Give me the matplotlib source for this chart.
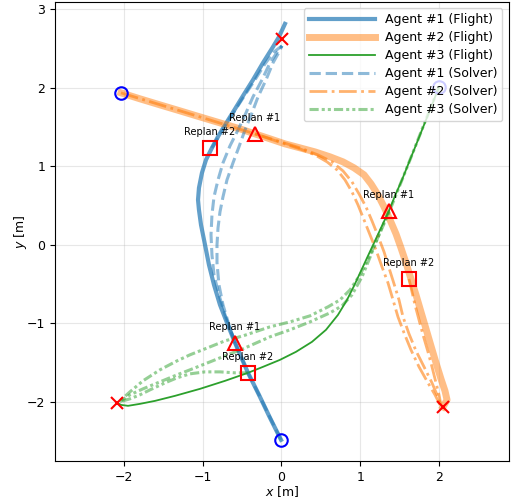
import numpy as np
import matplotlib.pyplot as plt

plt.rcParams['font.size'] = 9

# Flown trajectories (x, y in metres)
flight1_x = [-0.006, -0.146, -0.286, -0.425, -0.514, -0.590, -0.692, -0.781, -0.857, -0.921, -0.971, -1.022, -1.048, -1.060,
             -1.048, -1.010, -0.959, -0.883, -0.794, -0.692, -0.590, -0.489, -0.362, -0.235, -0.108, -0.032, 0.044]
flight1_y = [-2.481, -2.201, -1.908, -1.628, -1.425, -1.247, -0.992, -0.763, -0.509, -0.254, 0.000, 0.254, 0.445, 0.573,
             0.725, 0.916, 1.081, 1.234, 1.399, 1.565, 1.730, 1.896, 2.099, 2.316, 2.519, 2.646, 2.812]

flight2_x = [-2.038, -1.797, -1.543, -1.289, -1.035, -0.781, -0.527, -0.337, -0.146, 0.044, 0.235, 0.425, 0.616, 0.781,
             0.921, 1.048, 1.137, 1.225, 1.302, 1.378, 1.454, 1.517, 1.581, 1.644, 1.708, 1.771, 1.835, 1.898, 1.962,
             2.025, 2.076, 2.102, 2.051]
flight2_y = [1.934, 1.858, 1.781, 1.705, 1.628, 1.552, 1.476, 1.412, 1.349, 1.285, 1.234, 1.183, 1.120, 1.056,
             0.980, 0.891, 0.776, 0.636, 0.483, 0.318, 0.140, -0.038, -0.229, -0.433, -0.636, -0.852, -1.069, -1.285,
             -1.501, -1.705, -1.858, -1.972, -2.061]

flight3_x = [2.000, 1.911, 1.835, 1.759, 1.683, 1.606, 1.530, 1.441, 1.365, 1.276, 1.187, 1.098, 1.010, 0.921, 0.832,
             0.717, 0.565, 0.387, 0.184, -0.019, -0.235, -0.425, -0.717, -1.035, -1.352, -1.606, -1.797, -1.949,
             -2.038, -2.089]
flight3_y = [2.010, 1.781, 1.590, 1.399, 1.209, 1.018, 0.827, 0.623, 0.433, 0.242, 0.051, -0.140, -0.331, -0.522,
             -0.700, -0.891, -1.081, -1.234, -1.361, -1.463, -1.552, -1.628, -1.730, -1.832, -1.921, -1.985, -2.023,
             -2.048, -2.036, -2.010]

# Solver plans: initial plan, then one per replan
solver1 = [
    ([-0.006, -0.286, -0.425, -0.590, -0.705, -0.794, -0.857, -0.883, -0.895, -0.883, -0.857, -0.806, -0.743, -0.654,
      -0.552, -0.451, -0.362, -0.248, -0.146, -0.070, 0.006],
     [-2.481, -1.908, -1.628, -1.247, -0.929, -0.636, -0.382, -0.127, 0.127, 0.382, 0.611, 0.827, 1.043, 1.260,
      1.463, 1.679, 1.883, 2.099, 2.316, 2.430, 2.532]),
    ([-0.590, -0.667, -0.743, -0.794, -0.819, -0.819, -0.806, -0.781, -0.743, -0.692, -0.616, -0.540, -0.463, -0.375,
      -0.298, -0.197, -0.108, -0.044, 0.006],
     [-1.247, -1.018, -0.763, -0.509, -0.229, 0.000, 0.216, 0.420, 0.611, 0.827, 1.043, 1.247, 1.463, 1.679,
      1.883, 2.099, 2.316, 2.430, 2.532]),
    ([-0.883, -0.794, -0.692, -0.578, -0.463, -0.337, -0.210, -0.095, 0.006],
     [1.234, 1.387, 1.552, 1.730, 1.908, 2.099, 2.303, 2.455, 2.532]),
]
solver2 = [
    ([-2.038, -1.035, -0.337, 0.235, 0.425, 0.578, 0.705, 0.806, 0.895, 0.971, 1.048, 1.124, 1.200, 1.276, 1.352,
      1.416, 1.479, 1.556, 1.644, 1.746, 1.860, 1.949, 2.013],
     [1.934, 1.628, 1.412, 1.221, 1.145, 1.056, 0.954, 0.827, 0.674, 0.509, 0.318, 0.127, -0.064, -0.280, -0.483,
      -0.700, -0.916, -1.120, -1.336, -1.552, -1.756, -1.908, -2.036]),
    ([-0.337, 0.235, 0.463, 0.641, 0.781, 0.895, 0.984, 1.073, 1.149, 1.225, 1.302, 1.365, 1.429, 1.492, 1.543,
      1.619, 1.708, 1.810, 1.911, 1.975, 2.025],
     [1.412, 1.234, 1.145, 1.056, 0.941, 0.802, 0.649, 0.483, 0.305, 0.115, -0.089, -0.293, -0.496, -0.700, -0.916,
      -1.132, -1.349, -1.552, -1.756, -1.908, -2.036]),
    ([1.619, 1.657, 1.695, 1.746, 1.797, 1.860, 1.911, 1.962, 2.000, 2.025],
     [-0.433, -0.598, -0.763, -0.954, -1.145, -1.361, -1.552, -1.756, -1.908, -2.036]),
]
solver3 = [
    ([2.000, 1.822, 1.657, 1.505, 1.378, 1.251, 1.124, 0.997, 0.870, 0.743, 0.590, 0.362, 0.108, -0.146, -0.489,
      -0.717, -0.908, -1.162, -1.327, -1.543, -1.759, -1.924, -2.051],
     [2.010, 1.565, 1.145, 0.763, 0.445, 0.153, -0.127, -0.382, -0.573, -0.700, -0.789, -0.903, -0.980, -1.043,
      -1.158, -1.221, -1.298, -1.399, -1.476, -1.590, -1.730, -1.870, -1.985]),
    ([1.365, 1.251, 1.137, 1.022, 0.895, 0.768, 0.616, 0.362, 0.108, -0.146, -0.489, -0.717, -0.908, -1.162, -1.327,
      -1.543, -1.759, -1.924, -2.051],
     [0.433, 0.165, -0.127, -0.407, -0.636, -0.776, -0.865, -0.980, -1.081, -1.170, -1.323, -1.412, -1.489, -1.590,
      -1.654, -1.743, -1.832, -1.908, -1.997]),
    ([-0.425, -0.590, -0.781, -0.971, -1.162, -1.327, -1.479, -1.670, -1.797, -1.924, -2.051],
     [-1.628, -1.628, -1.616, -1.616, -1.641, -1.692, -1.756, -1.845, -1.908, -1.959, -1.997]),
]

starts_x = [-0.006, -2.038, 2.000]
starts_y = [-2.481, 1.934, 2.010]
goals_x = [0.006, 2.051, -2.089]
goals_y = [2.621, -2.061, -2.010]

replan1_x = [-0.590, -0.337, 1.365]
replan1_y = [-1.247, 1.412, 0.433]
replan2_x = [-0.908, 1.619, -0.425]
replan2_y = [1.234, -0.433, -1.628]

fig = plt.figure(figsize=(5.11, 5.0), dpi=100)
ax = fig.add_axes([55 / 511, 39 / 500, 453.7 / 511, 459 / 500])

ax.plot(flight1_x, flight1_y, color='tab:blue', lw=3, alpha=0.7, label='Agent #1 (Flight)')
ax.plot(flight2_x, flight2_y, color='tab:orange', lw=5, alpha=0.5, label='Agent #2 (Flight)')
ax.plot(flight3_x, flight3_y, color='tab:green', lw=1.3, label='Agent #3 (Flight)')

for i, (sx, sy) in enumerate(solver1):
    ax.plot(sx, sy, color='tab:blue', lw=2.2, ls='--', alpha=0.5,
            label='Agent #1 (Solver)' if i == 0 else None)
for i, (sx, sy) in enumerate(solver2):
    ax.plot(sx, sy, color='tab:orange', lw=2, ls='-.', alpha=0.6,
            label='Agent #2 (Solver)' if i == 0 else None)
for i, (sx, sy) in enumerate(solver3):
    ax.plot(sx, sy, color='tab:green', lw=2.2, ls=(0, (3, 1, 1, 1, 1, 1)), alpha=0.5,
            label='Agent #3 (Solver)' if i == 0 else None)

ax.plot(starts_x, starts_y, 'o', ms=9, mfc='none', mec='blue', mew=1.5)
ax.plot(goals_x, goals_y, 'x', ms=9, color='red', mew=1.5)
ax.plot(replan1_x, replan1_y, '^', ms=10, mfc='none', mec='red', mew=1.5)
ax.plot(replan2_x, replan2_y, 's', ms=10, mfc='none', mec='red', mew=1.5)

for x, y in zip(replan1_x, replan1_y):
    ax.annotate('Replan #1', (x, y), xytext=(0, 8), textcoords='offset points',
                ha='center', va='bottom', fontsize=7)
for x, y in zip(replan2_x, replan2_y):
    ax.annotate('Replan #2', (x, y), xytext=(0, 8), textcoords='offset points',
                ha='center', va='bottom', fontsize=7)

ax.set_xlim(-2.876, 2.885)
ax.set_ylim(-2.75, 3.09)
ax.set_xticks([-2, -1, 0, 1, 2])
ax.set_yticks([-2, -1, 0, 1, 2, 3])
ax.set_xlabel('$x$ [m]', labelpad=0)
ax.set_ylabel('$y$ [m]', labelpad=-1.5)
ax.grid(True, alpha=0.3)
ax.legend(loc='upper right', handlelength=5.3, labelspacing=0.4)

fig.savefig('out.png', dpi=100)
